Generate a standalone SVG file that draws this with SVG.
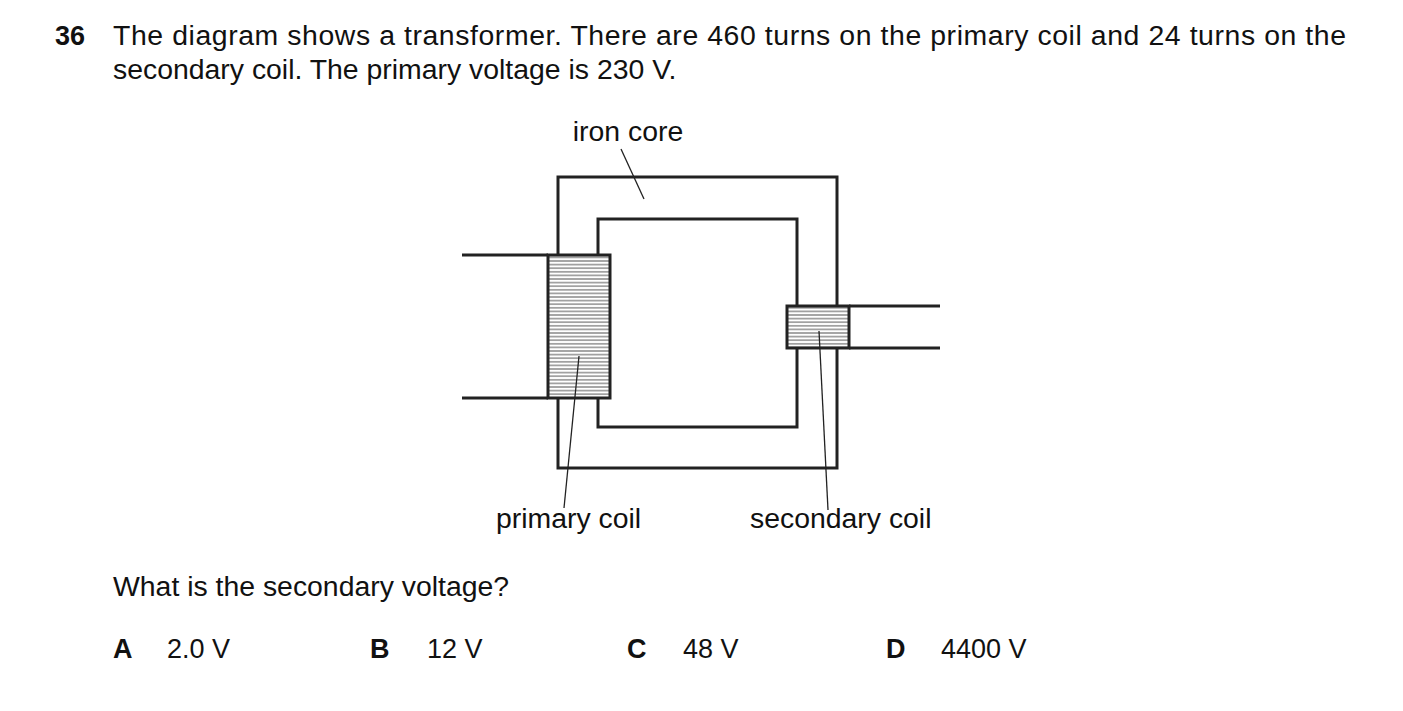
<svg xmlns="http://www.w3.org/2000/svg" width="1403" height="711" viewBox="0 0 1403 711">
<defs>
<style>
text{font-family:"Liberation Sans",Arial,sans-serif;font-size:28.4px;fill:#111}
.b{font-weight:bold}
.o{font-size:27px}
.l{font-size:28.4px}
.k{fill:none;stroke:#222;stroke-width:3}
.h{stroke:#555;stroke-width:1}
.ld{stroke:#222;stroke-width:1.3}
</style>
<pattern id="hat" width="10" height="3.6" patternUnits="userSpaceOnUse"><line x1="0" y1="1.8" x2="10" y2="1.8" class="h"/></pattern>
</defs>
<rect width="1403" height="711" fill="#fff"/>
<text x="55" y="45" class="b o">36</text>
<text x="113" y="45" textLength="1233" lengthAdjust="spacing">The diagram shows a transformer. There are 460 turns on the primary coil and 24 turns on the</text>
<text x="113" y="79">secondary coil. The primary voltage is 230 V.</text>
<g id="core"><rect x="558" y="177" width="279" height="291" class="k"/><rect x="598" y="219" width="199" height="208" class="k"/></g>
<g id="primary"><rect x="548" y="255" width="62" height="143" fill="#fff"/><rect x="548" y="255" width="62" height="143" fill="url(#hat)"/><rect x="548" y="255" width="62" height="143" class="k"/><line x1="462" y1="255" x2="548" y2="255" class="k"/><line x1="462" y1="398" x2="548" y2="398" class="k"/></g>
<g id="secondary"><rect x="787" y="306" width="62" height="42" fill="#fff"/><rect x="787" y="306" width="62" height="42" fill="url(#hat)"/><rect x="787" y="306" width="62" height="42" class="k"/><line x1="849" y1="306" x2="940" y2="306" class="k"/><line x1="849" y1="348" x2="940" y2="348" class="k"/></g>
<g id="connectors"><line x1="621" y1="149" x2="644" y2="199" class="ld"/><line x1="579" y1="356" x2="564" y2="508" class="ld"/><line x1="819" y1="331" x2="828" y2="510" class="ld"/></g>
<g id="labels"><text x="628" y="141" text-anchor="middle" class="l">iron core</text><text x="496" y="528" class="l">primary coil</text><text x="750" y="528" class="l">secondary coil</text></g>
<text x="113" y="596">What is the secondary voltage?</text>
<g class="o">
<text x="113" y="658" class="b o">A</text><text x="167" y="658" class="o">2.0 V</text>
<text x="370" y="658" class="b o">B</text><text x="427" y="658" class="o">12 V</text>
<text x="627" y="658" class="b o">C</text><text x="683" y="658" class="o">48 V</text>
<text x="886" y="658" class="b o">D</text><text x="941" y="658" class="o">4400 V</text>
</g>
</svg>
